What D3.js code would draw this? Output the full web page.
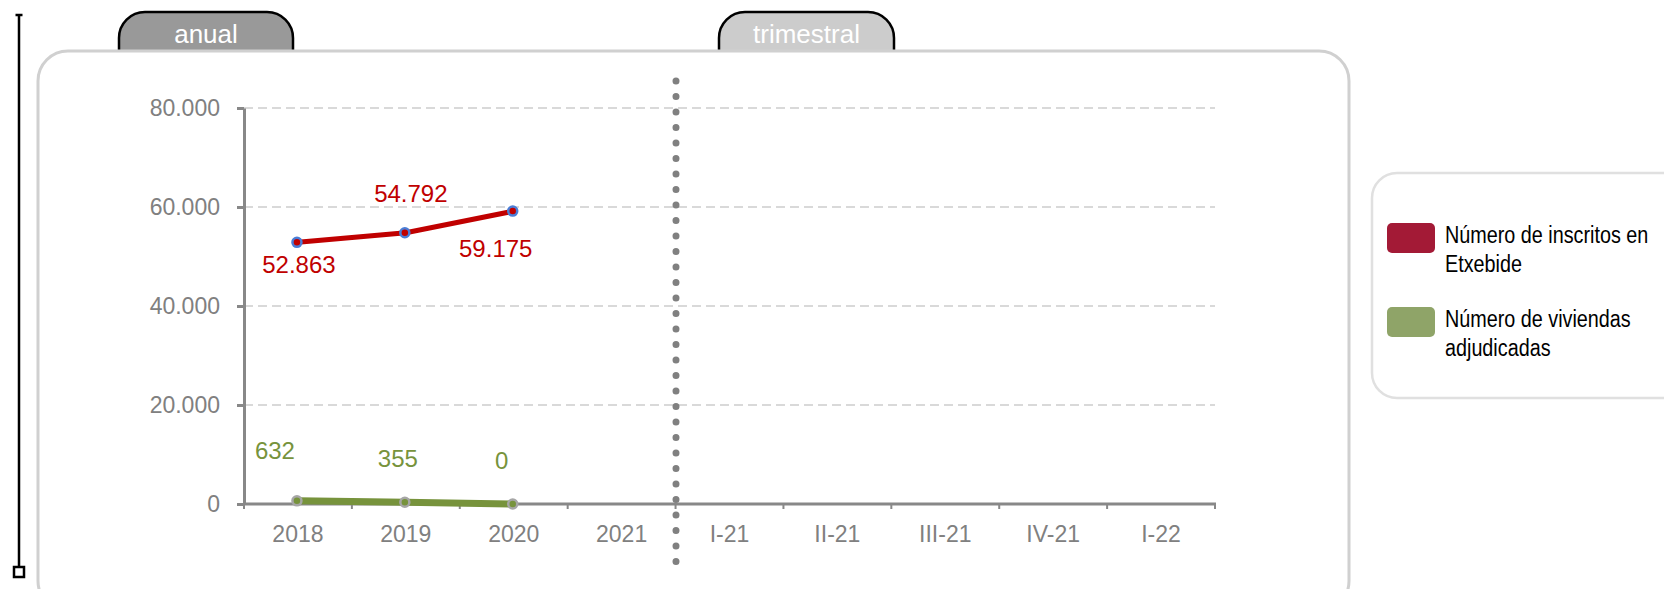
<!DOCTYPE html>
<html>
<head>
<meta charset="utf-8">
<script src="https://cdn.jsdelivr.net/npm/d3@7"></script>
<style>
  body { margin: 0; background: #fff; }
  svg { display: block; font-family: "Liberation Sans", Arial, sans-serif; }
</style>
</head>
<body>
<svg id="chart" width="1664" height="589"></svg>
<script>
// data
const categories = ["2018", "2019", "2020", "2021", "I-21", "II-21", "III-21", "IV-21", "I-22"];
const inscritos = [52863, 54792, 59175];
const viviendas = [632, 355, 0];
const yTicks = [0, 20000, 40000, 60000, 80000];
const seriesNames = ["Número de inscritos en Etxebide", "Número de viviendas adjudicadas"];
const legendLines = [["Número de inscritos en", "Etxebide"], ["Número de viviendas", "adjudicadas"]];
const tabNames = ["anual", "trimestral"];

const svg = d3.select("#chart");
const es = d3.formatLocale({ decimal: ",", thousands: ".", grouping: [3], currency: ["", "€"] });
const fmt = es.format(",.0f");

const axisColor = "#888888";
const red = "#c00000";
const green = "#77933c";

// scales
const x = d3.scaleBand().domain(categories).range([244, 1215]).padding(0);
const y = d3.scaleLinear().domain([0, 80000]).range([504, 108]);
const cx = d => x(d) + x.bandwidth() / 2;

// left bracket line
svg.append("line").attr("x1", 19).attr("x2", 19).attr("y1", 15).attr("y2", 567)
  .attr("stroke", "#000").attr("stroke-width", 2.5);
svg.append("line").attr("x1", 15.5).attr("x2", 22.5).attr("y1", 15).attr("y2", 15)
  .attr("stroke", "#000").attr("stroke-width", 2.5);
svg.append("rect").attr("x", 14).attr("y", 567).attr("width", 10).attr("height", 10)
  .attr("fill", "#fff").attr("stroke", "#000").attr("stroke-width", 2.5);

// tabs
function tabPath(x0, x1, y0, y1, r) {
  return `M${x0},${y1} L${x0},${y0 + r} A${r},${r} 0 0 1 ${x0 + r},${y0} L${x1 - r},${y0} A${r},${r} 0 0 1 ${x1},${y0 + r} L${x1},${y1}`;
}
const tabs = [
  { name: tabNames[0], x0: 119, x1: 293, fill: "#999999" },
  { name: tabNames[1], x0: 719, x1: 894, fill: "#cccccc" }
];
tabs.forEach(t => {
  svg.append("path").attr("d", tabPath(t.x0, t.x1, 12, 52, 26))
    .attr("fill", t.fill).attr("stroke", "#000").attr("stroke-width", 2.5);
  svg.append("text").attr("x", (t.x0 + t.x1) / 2).attr("y", 43)
    .attr("text-anchor", "middle").attr("fill", "#fff").attr("font-size", 26)
    .text(t.name);
});

// panel
svg.append("rect").attr("x", 38).attr("y", 51).attr("width", 1311).attr("height", 560)
  .attr("rx", 30).attr("fill", "#fff").attr("stroke", "#d0d0d0").attr("stroke-width", 3);

// gridlines
svg.append("g").selectAll("line").data(yTicks.filter(d => d > 0)).join("line")
  .attr("x1", 244).attr("x2", 1215)
  .attr("y1", d => y(d)).attr("y2", d => y(d))
  .attr("stroke", "#d9d9d9").attr("stroke-width", 2).attr("stroke-dasharray", "9,5");

// y axis
const yAxis = svg.append("g").attr("transform", "translate(244,0)")
  .call(d3.axisLeft(y).tickValues(yTicks).tickFormat(fmt).tickSize(7).tickSizeOuter(0).tickPadding(17));
yAxis.select(".domain").attr("stroke", axisColor).attr("stroke-width", 3);
yAxis.selectAll(".tick line").attr("stroke", axisColor).attr("stroke-width", 3);
yAxis.selectAll(".tick text").attr("fill", "#808080").attr("font-size", 23)
  .attr("font-family", "Liberation Sans, Arial, sans-serif");

// x axis
const xg = svg.append("g");
xg.append("line").attr("x1", 243).attr("x2", 1216).attr("y1", 504).attr("y2", 504)
  .attr("stroke", axisColor).attr("stroke-width", 3);
const bounds = categories.map(c => x(c)).concat([x.range()[1]]);
xg.selectAll("line.tk").data(bounds).join("line").attr("class", "tk")
  .attr("x1", d => d).attr("x2", d => d).attr("y1", 504).attr("y2", 509)
  .attr("stroke", axisColor).attr("stroke-width", 2);
xg.selectAll("text").data(categories).join("text")
  .attr("x", d => cx(d)).attr("y", 542).attr("text-anchor", "middle")
  .attr("fill", "#808080").attr("font-size", 23).text(d => d);

// separator between annual and quarterly
svg.append("line").attr("x1", 676).attr("x2", 676).attr("y1", 81).attr("y2", 563)
  .attr("stroke", "#808080").attr("stroke-width", 7).attr("stroke-linecap", "round")
  .attr("stroke-dasharray", "0,15.5");

// lines
const line = d3.line().x((d, i) => cx(categories[i])).y(d => y(d));
svg.append("path").datum(viviendas).attr("d", line)
  .attr("fill", "none").attr("stroke", green).attr("stroke-width", 7);
svg.append("path").datum(inscritos).attr("d", line)
  .attr("fill", "none").attr("stroke", red).attr("stroke-width", 5);

svg.append("g").selectAll("circle").data(viviendas).join("circle")
  .attr("cx", (d, i) => cx(categories[i]) - 1).attr("cy", d => y(d)).attr("r", 4.5)
  .attr("fill", green).attr("stroke", "#a6a6a6").attr("stroke-width", 2.5);
svg.append("g").selectAll("circle").data(inscritos).join("circle")
  .attr("cx", (d, i) => cx(categories[i]) - 1).attr("cy", d => y(d)).attr("r", 4.5)
  .attr("fill", red).attr("stroke", "#4a7dd6").attr("stroke-width", 2.5);

// data labels
const redOff = [[1, 31], [5, -31], [-18, 46]];
const greenOff = [[-23, -42], [-8, -35], [-12, -35]];
svg.append("g").selectAll("text").data(inscritos).join("text")
  .attr("x", (d, i) => cx(categories[i]) + redOff[i][0])
  .attr("y", (d, i) => y(d) + redOff[i][1])
  .attr("text-anchor", "middle").attr("fill", red).attr("font-size", 24).text(d => fmt(d));
svg.append("g").selectAll("text").data(viviendas).join("text")
  .attr("x", (d, i) => cx(categories[i]) + greenOff[i][0])
  .attr("y", (d, i) => y(d) + greenOff[i][1])
  .attr("text-anchor", "middle").attr("fill", green).attr("font-size", 24).text(d => fmt(d));

// legend
svg.append("rect").attr("x", 1372).attr("y", 173).attr("width", 330).attr("height", 225)
  .attr("rx", 25).attr("fill", "#fff").attr("stroke", "#e0e0e0").attr("stroke-width", 2.5);
const swatch = ["#a31a36", "#8fa468"];
const lg = svg.append("g").selectAll("g").data(seriesNames).join("g")
  .attr("transform", (d, i) => `translate(1387,${223 + i * 84})`);
lg.append("rect").attr("width", 48).attr("height", 30).attr("rx", 5)
  .attr("fill", (d, i) => swatch[i]);
lg.each(function (d, i) {
  const t = d3.select(this).append("text")
    .attr("transform", "translate(58,20) scale(0.86,1)")
    .attr("font-size", 23).attr("fill", "#000");
  legendLines[i].forEach((s, k) => {
    t.append("tspan").attr("x", 0).attr("y", k * 29).text(s);
  });
});
</script>
</body>
</html>
